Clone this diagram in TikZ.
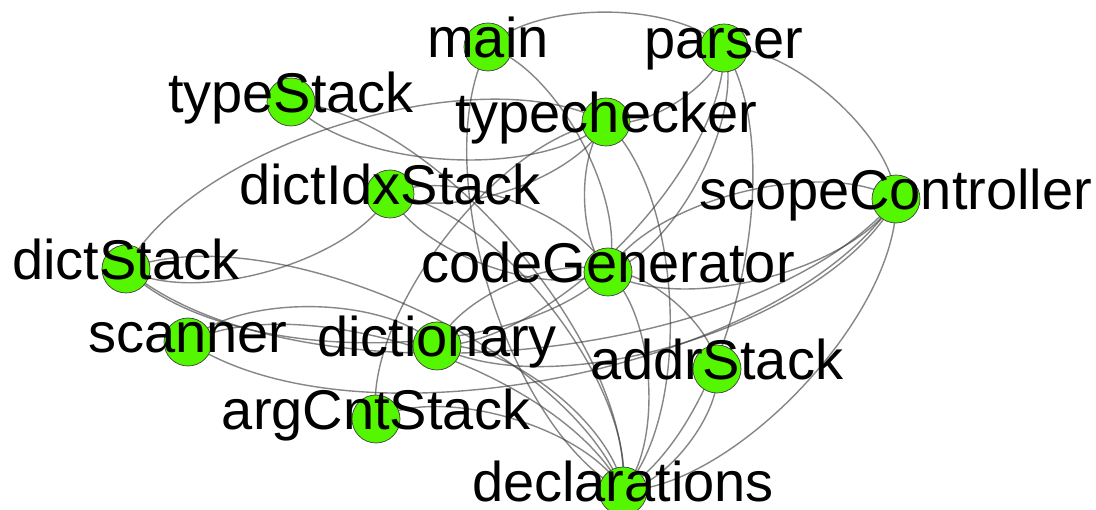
\documentclass[tikz,border=0pt]{standalone}
\usepackage{fontspec}
\setmainfont{Liberation Sans}
\usetikzlibrary{calc}
\definecolor{nodegreen}{RGB}{84,246,0}
\definecolor{edgegray}{RGB}{60,60,60}
\pgfdeclarelayer{bg}
\pgfsetlayers{bg,main}
\tikzset{
  module/.style={circle, fill=nodegreen, draw=black!75, line width=0.7pt,
    minimum size=48pt, inner sep=0pt},
  lbl/.style={anchor=base, inner sep=0pt, font=\fontsize{56}{60}\selectfont},
  link/.style={draw=edgegray, line width=1.4pt, opacity=0.62}
}
% curved link bending to the left of the direction #1 -> #2
\newcommand\gedge[2]{%
  \draw[link] (#1.center) .. controls ($(#1.center)!0.2828!45:(#2.center)$)
    and ($(#2.center)!0.2828!-45:(#1.center)$) .. (#2.center);}
% module name printed across its circle
\newcommand\modname[2]{\node[lbl] (#1-l) at ([yshift=-10.5pt]#1.center) {#2};}
\begin{document}
\begin{tikzpicture}[x=1pt,y=-1pt]
\useasboundingbox (0,0) rectangle (1096,510);

\node[module] (main) at (488,47) {};
\node[module] (parser) at (724,48) {};
\node[module] (typeStack) at (291,102) {};
\node[module] (typechecker) at (606,122) {};
\node[module] (dictIdxStack) at (390,194) {};
\node[module] (scopeController) at (896,199) {};
\node[module] (dictStack) at (126,269) {};
\node[module] (codeGenerator) at (608,272) {};
\node[module] (scanner) at (188,342) {};
\node[module] (dictionary) at (437,346) {};
\node[module] (addrStack) at (717,369) {};
\node[module] (argCntStack) at (376,419) {};
\node[module] (declarations) at (623,491) {};

\begin{pgfonlayer}{bg}
\fill[white] (0,0) rectangle (1096,510);
\gedge{main}{parser}
\gedge{parser}{scopeController}
\gedge{parser}{typechecker}
\gedge{parser}{declarations}
\gedge{parser}{codeGenerator}
\gedge{parser}{dictionary}
\gedge{declarations}{main}
\gedge{main}{codeGenerator}
\gedge{typechecker}{typeStack}
\gedge{typeStack}{declarations}
\gedge{dictStack}{typechecker}
\gedge{dictIdxStack}{dictStack}
\gedge{argCntStack}{typechecker}
\gedge{scopeController}{dictStack}
\gedge{scopeController}{dictionary}
\gedge{codeGenerator}{scopeController}
\gedge{scopeController}{codeGenerator}
\gedge{scopeController}{declarations}
\gedge{typechecker}{declarations}
\gedge{codeGenerator}{addrStack}
\gedge{addrStack}{declarations}
\gedge{dictIdxStack}{codeGenerator}
\gedge{codeGenerator}{dictIdxStack}
\gedge{dictIdxStack}{declarations}
\gedge{typechecker}{dictIdxStack}
\gedge{dictionary}{declarations}
\gedge{argCntStack}{declarations}
\gedge{dictionary}{codeGenerator}
\gedge{codeGenerator}{typechecker}
\gedge{scanner}{dictionary}
\gedge{scanner}{declarations}
\gedge{dictStack}{declarations}
\gedge{codeGenerator}{dictStack}
\gedge{scopeController}{scanner}
\gedge{codeGenerator}{declarations}
\end{pgfonlayer}

\modname{main}{main}
\modname{parser}{parser}
\modname{typeStack}{typeStack}
\modname{typechecker}{typechecker}
\modname{dictIdxStack}{dictIdxStack}
\modname{scopeController}{scopeController}
\modname{dictStack}{dictStack}
\modname{codeGenerator}{codeGenerator}
\modname{scanner}{scanner}
\modname{dictionary}{dictionary}
\modname{addrStack}{addrStack}
\modname{argCntStack}{argCntStack}
\modname{declarations}{declarations}
\end{tikzpicture}
\end{document}
